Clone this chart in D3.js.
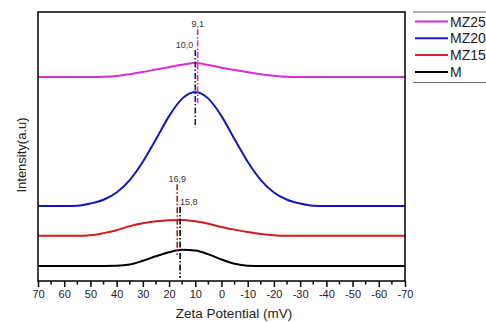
<!DOCTYPE html>
<html><head><meta charset="utf-8">
<script src="https://cdn.jsdelivr.net/npm/d3@7"></script>
<style>
html,body{margin:0;padding:0;background:#fff;}
svg{display:block;font-family:"Liberation Sans",Arial,sans-serif;}
</style></head>
<body><svg id="c" width="486" height="322"></svg>
<script>
// ---- data ----
const zeta = [70,65,60,55,50,45,40,35,30,25,20,15,10,5,0,-5,-10,-15,-20,-25,-30,-35,-40,-45,-50,-55,-60,-65,-70];
const seriesNames = ["MZ25","MZ20","MZ15","M"];
const mz25 = [75.8,75.8,75.8,75.8,75.8,75.9,76.2,76.9,77.7,78.6,79.5,80.4,81.0,80.3,79.3,78.4,77.6,76.9,76.3,75.9,75.8,75.8,75.8,75.8,75.8,75.8,75.8,75.8,75.8];
const mz20 = [27.9,27.9,27.9,28.0,28.8,30.2,32.9,37.5,44.3,52.7,61.3,67.8,70.3,67.8,61.3,52.7,44.3,37.5,32.9,30.2,28.8,28.0,27.9,27.9,27.9,27.9,27.9,27.9,27.9];
const mz15 = [16.8,16.8,16.8,16.8,17.0,17.8,18.9,20.4,21.5,22.2,22.6,22.7,22.2,21.3,20.1,19.1,18.2,17.5,17.0,16.8,16.8,16.8,16.8,16.8,16.8,16.8,16.8,16.8,16.8];
const m    = [5.6,5.6,5.6,5.6,5.6,5.6,5.65,6.1,7.5,9.2,10.7,11.6,11.3,9.9,8.0,6.4,5.7,5.6,5.6,5.6,5.6,5.6,5.6,5.6,5.6,5.6,5.6,5.6,5.6];
const peakZeta = [9.1, 10.0, 16.9, 15.8];
const peakLabels = ["9,1","10,0","16,9","15,8"];
const peakTop = [93.7, 85.9, 36.0, 27.5];
const peakBottom = [66.2, 57.2, 9.7, 1.1];
const xTicks = [70,60,50,40,30,20,10,0,-10,-20,-30,-40,-50,-60,-70];

// ---- layout ----
const colors = ["#d42ed4","#1616b0","#d01c1c","#000000"];
const legendColors = ["#cc33cc","#1a1ad6","#dd2222","#000000"];
const markerColors = ["#d42ed4","#1a1a6e","#b02020","#000000"];
const L=38, R=405, T=12, B=281;
const svg = d3.select("#c");
const x = d3.scaleLinear().domain([70,-70]).range([L,R]);
const y = d3.scaleLinear().domain([0,100]).range([B,T]);
const allSeries = [mz25,mz20,mz15,m];

// curves
const line = d3.line().x((d,i)=>x(zeta[i])).y(d=>y(d)).curve(d3.curveMonotoneX);
svg.append("g").selectAll("path").data(allSeries).join("path")
  .attr("d", d=>line(d)).attr("fill","none")
  .attr("stroke",(d,i)=>colors[i]).attr("stroke-width",2);

// peak markers
const anchors=["middle","end","middle","start"], dxs=[0,-2,0,0];
const mk = svg.append("g");
peakZeta.forEach((p,i)=>{
  mk.append("line").attr("x1",x(p)).attr("x2",x(p))
    .attr("y1",y(peakTop[i])).attr("y2",y(peakBottom[i]))
    .attr("stroke",markerColors[i]).attr("stroke-width",1.6)
    .attr("stroke-dasharray","6,2,1.5,2");
  mk.append("text").attr("x",x(p)+dxs[i]).attr("y",y(peakTop[i])-2)
    .attr("text-anchor",anchors[i]).attr("font-size",9).attr("fill","#333")
    .text(peakLabels[i]);
});

// frame
svg.append("rect").attr("x",L).attr("y",T).attr("width",R-L).attr("height",B-T)
  .attr("fill","none").attr("stroke","#000").attr("stroke-width",1.5);

// x axis
const minor = d3.range(65,-70,-10);
const ax = svg.append("g").attr("transform",`translate(0,${B})`);
ax.call(d3.axisBottom(x).tickValues(xTicks).tickSize(6).tickPadding(3).tickFormat(d=>d));
ax.select(".domain").remove();
ax.selectAll(".tick line").attr("stroke","#000").attr("stroke-width",1.5);
ax.selectAll(".tick text").attr("font-size",11).attr("fill","#222")
  .attr("font-family","'Liberation Sans',Arial,sans-serif");
ax.selectAll(".minor").data(minor).join("line").attr("class","minor")
  .attr("x1",d=>x(d)).attr("x2",d=>x(d)).attr("y1",0).attr("y2",3.5)
  .attr("stroke","#000").attr("stroke-width",1.5);

svg.append("text").attr("x",234).attr("y",318).attr("text-anchor","middle")
  .attr("font-size",13.5).attr("fill","#222").text("Zeta Potential (mV)");
svg.append("text").attr("transform","translate(26,155) rotate(-90)")
  .attr("text-anchor","middle").attr("font-size",13).attr("fill","#222").text("Intensity(a.u)");

// legend
const lg = svg.append("g");
lg.append("line").attr("x1",413).attr("x2",486).attr("y1",12).attr("y2",12).attr("stroke","#666").attr("stroke-width",1);
lg.append("line").attr("x1",413).attr("x2",486).attr("y1",82.5).attr("y2",82.5).attr("stroke","#666").attr("stroke-width",1);
seriesNames.forEach((n,i)=>{
  const yy = 21.5 + i*16.8;
  lg.append("line").attr("x1",415).attr("x2",448).attr("y1",yy).attr("y2",yy)
    .attr("stroke",legendColors[i]).attr("stroke-width",2);
  lg.append("text").attr("x",450).attr("y",yy+5).attr("font-size",14).attr("fill","#222").text(n);
});
</script></body></html>
